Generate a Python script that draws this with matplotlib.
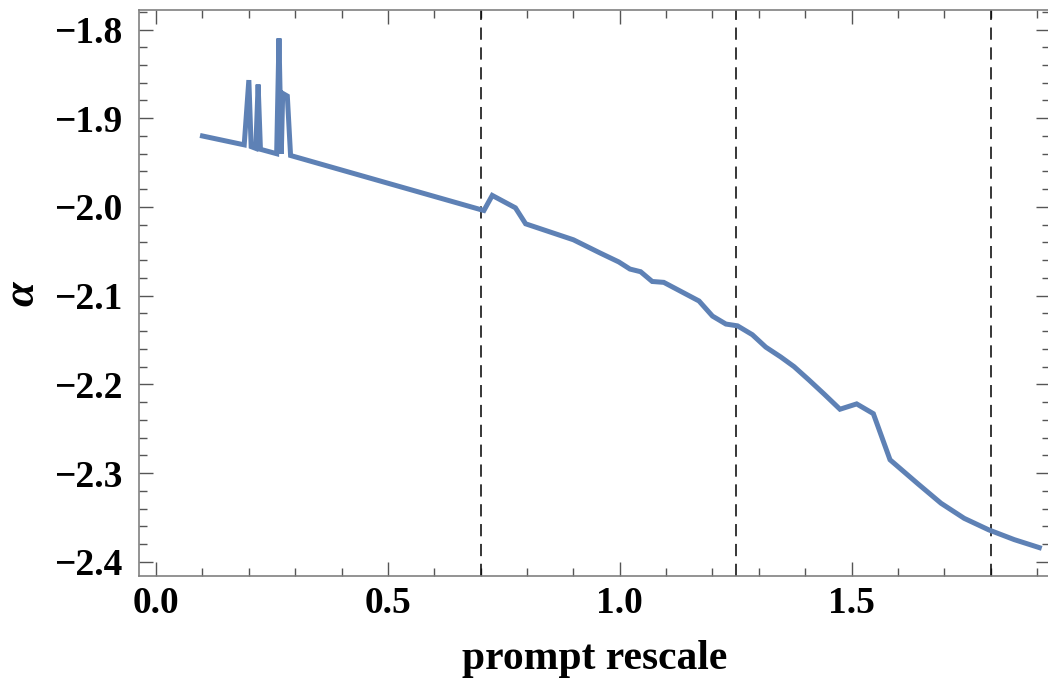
import matplotlib.pyplot as plt
from matplotlib.ticker import MultipleLocator

# values
x = [0.10, 0.19, 0.20, 0.205, 0.215, 0.22, 0.225, 0.26, 0.265, 0.27, 0.273, 0.283, 0.29,
     0.70, 0.707, 0.725, 0.775, 0.797, 0.90, 0.958, 0.998, 1.022, 1.045, 1.070, 1.095,
     1.171, 1.200, 1.229, 1.254, 1.286, 1.315, 1.347, 1.376, 1.408, 1.441, 1.475, 1.511,
     1.547, 1.583, 1.643, 1.693, 1.743, 1.796, 1.851, 1.905]
alpha = [-1.920, -1.930, -1.857, -1.932, -1.934, -1.862, -1.935, -1.940, -1.810, -1.940, -1.872, -1.875, -1.942,
         -2.003, -2.004, -1.987, -2.001, -2.019, -2.037, -2.052, -2.062, -2.070, -2.073, -2.084, -2.085,
         -2.106, -2.123, -2.132, -2.134, -2.144, -2.158, -2.169, -2.180, -2.195, -2.211, -2.228, -2.222,
         -2.233, -2.285, -2.312, -2.334, -2.351, -2.364, -2.375, -2.384]
vlines = [0.7, 1.25, 1.8]

plt.rcParams['font.family'] = 'Liberation Serif'
plt.rcParams['font.weight'] = 'bold'
plt.rcParams['mathtext.fontset'] = 'custom'
plt.rcParams['mathtext.it'] = 'Liberation Serif:italic:bold'

fig = plt.figure(figsize=(10.48, 6.9), dpi=100)
ax = fig.add_axes([0.1326, 0.1652, 0.8693, 0.8203])

for v in vlines:
    ax.axvline(v, color='black', lw=1.1, linestyle=(0, (8, 5)))
ax.plot(x, alpha, color='#5E81B5', lw=3.6, solid_joinstyle='miter')

ax.set_xlim(-0.037, 1.928)
ax.set_ylim(-2.416, -1.778)
ax.xaxis.set_major_locator(MultipleLocator(0.5))
ax.xaxis.set_minor_locator(MultipleLocator(0.1))
ax.yaxis.set_major_locator(MultipleLocator(0.1))
ax.yaxis.set_minor_locator(MultipleLocator(0.02))
ax.xaxis.set_major_formatter(lambda v, p: '%.1f' % v)
ax.yaxis.set_major_formatter(lambda v, p: ('%.1f' % v).replace('-', '\u2212'))

for s in ax.spines.values():
    s.set_color('#808080')
    s.set_linewidth(1.2)
ax.tick_params(which='both', direction='in', top=True, right=True, color='#555555', width=1.0)
ax.tick_params(which='major', length=10, labelsize=27)
ax.tick_params(axis='y', which='major', pad=12)
ax.tick_params(axis='x', which='major', pad=7)
ax.tick_params(which='minor', length=6)

ax.set_xlabel('prompt rescale', fontsize=30, fontweight='bold', labelpad=14)
ax.set_ylabel(r'$\alpha$', fontsize=32, labelpad=8)

fig.savefig('out.png', dpi=100)
